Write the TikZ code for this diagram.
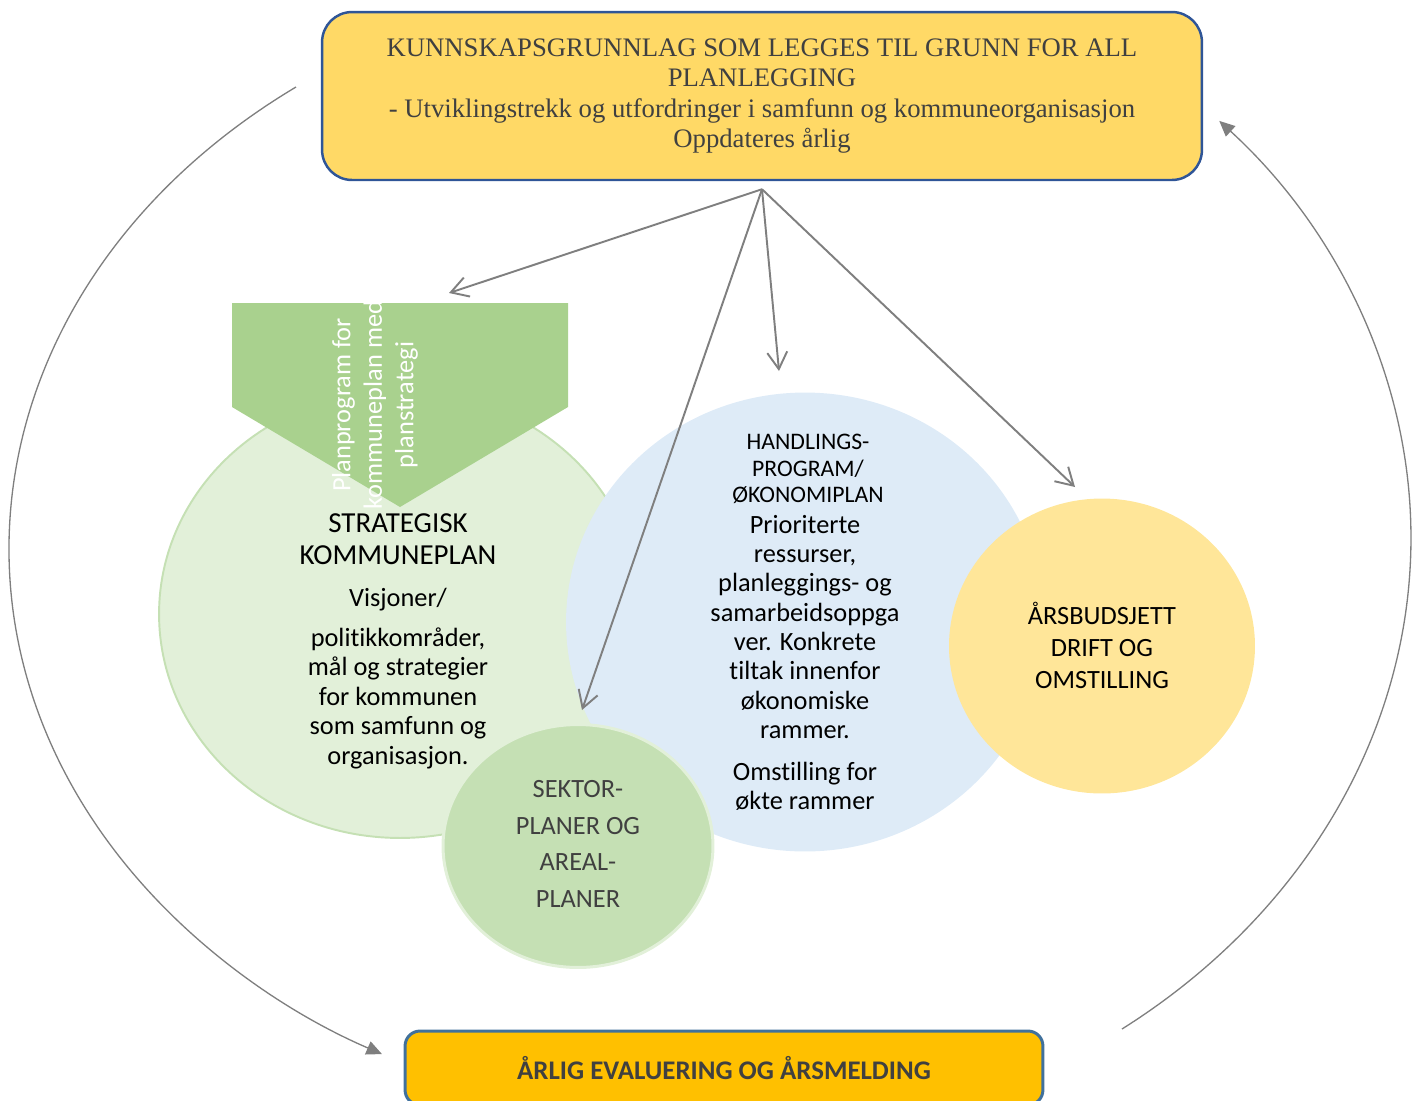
\documentclass[tikz,border=0pt]{standalone}
\usepackage{fontspec}
\setmainfont{Carlito}[Ligatures={NoCommon,NoRare}]
\newfontfamily\boxserif{Liberation Serif}
\usetikzlibrary{arrows.meta,positioning,shapes.geometric}

\definecolor{kgold}{HTML}{FFD966}
\definecolor{kblue}{HTML}{2F5597}
\definecolor{evalgold}{HTML}{FFC000}
\definecolor{evalblue}{HTML}{41719C}
\definecolor{stratfill}{HTML}{E2F0D9}
\definecolor{stratdraw}{HTML}{C5E0B4}
\definecolor{handlfill}{HTML}{DEEBF7}
\definecolor{budsjfill}{HTML}{FFE699}
\definecolor{sektorfill}{HTML}{C5E0B4}
\definecolor{chevgreen}{HTML}{A9D18E}
\definecolor{agray}{HTML}{7F7F7F}
\definecolor{textgray}{HTML}{404040}

\begin{document}
\begin{tikzpicture}[x=0.02cm,y=-0.02cm]
  \useasboundingbox (0,0) rectangle (1421,1100);
  \clip (0,0) rectangle (1421,1100);
  \tikzset{
    topBox/.style={rectangle,rounded corners=0.6cm,fill=kgold,draw=kblue,line width=1.4pt,
      minimum width=17.6cm,minimum height=3.36cm,align=center,text=textgray,
      font=\boxserif\fontsize{15.2}{17.4}\selectfont},
    evalBox/.style={rectangle,rounded corners=0.3cm,fill=evalgold,draw=evalblue,line width=1.7pt,
      minimum width=12.76cm,minimum height=1.48cm,text=textgray,
      font=\bfseries\fontsize{15.3}{17}\selectfont},
    % circles
    planCircle/.style={ellipse,fill=stratfill,draw=stratdraw,line width=1.1pt,inner sep=0pt},
    handlCircle/.style={ellipse,fill=handlfill,inner sep=0pt},
    budsjCircle/.style={ellipse,fill=budsjfill,inner sep=0pt},
    sektorCircle/.style={ellipse,fill=sektorfill,draw=stratfill,line width=1.7pt,inner sep=0pt},
    % text styles
    headText/.style={align=center,inner sep=0pt,font=\fontsize{16.5}{18.2}\selectfont},
    smallHead/.style={align=center,inner sep=0pt,font=\fontsize{13.5}{15.1}\selectfont},
    bodyText/.style={align=center,inner sep=0pt,font=\fontsize{15}{16.8}\selectfont},
    chevronText/.style={align=center,inner sep=0pt,text=white,rotate=90,
      font=\fontsize{15}{17.9}\selectfont},
    % edge styles
    linkArrow/.style={-{Straight Barb[length=3.4mm,width=4mm]},draw=agray,line width=1.1pt},
    cycleArrow/.style={-{Triangle[length=3.1mm,width=2.8mm]},draw=agray,line width=0.75pt}
  }

  %% Circles
  \node [planCircle, minimum width=9.64cm, minimum height=8.96cm] (strat) at (400,614) {};
  \node [handlCircle, minimum width=9.56cm, minimum height=9.18cm] (handl) at (805,622) {};
  \node [budsjCircle, minimum width=6.12cm, minimum height=5.9cm] (budsj) at (1102,646) {};
  \node [sektorCircle, minimum width=5.4cm, minimum height=4.86cm] (sektor) at (578,846) {};

  %% Planprogram chevron
  \fill [chevgreen] (232,303) -- (568,303) -- (568,407) -- (400,507) -- (232,407) -- cycle;
  \begin{scope}
    \clip (0,303) rectangle (1421,1100);
    \node [chevronText] (planprog) at (375,405) {Planprogram for\\kommuneplan med\\planstrategi};
  \end{scope}

  %% Circle texts
  \node [headText] (stratHead) at (398,539) {STRATEGISK\\KOMMUNEPLAN};
  \node [bodyText] (stratVis) at (398,600) {Visjoner/};
  \node [bodyText] (stratBody) at (398,698) {politikkområder,\\mål og strategier\\for kommunen\\som samfunn og\\organisasjon.};

  \node [smallHead] (handlHead) at (808,469) {HANDLINGS-\\PROGRAM/\\ØKONOMIPLAN};
  \node [bodyText, font=\fontsize{15}{16.7}\selectfont] (handlBody) at (805,627)
    {Prioriterte\\ressurser,\\planleggings- og\\samarbeidsoppga\\ver. Konkrete\\tiltak innenfor\\økonomiske\\rammer.};
  \node [bodyText, font=\fontsize{15}{16.7}\selectfont] (handlTail) at (805,786) {Omstilling for\\økte rammer};

  \node [bodyText, font=\fontsize{15}{18.2}\selectfont] (budsjText) at (1102,645) {ÅRSBUDSJETT\\DRIFT OG\\OMSTILLING};
  \node [bodyText, text=textgray, font=\fontsize{15}{20.8}\selectfont] (sektorText) at (578,844)
    {SEKTOR-\\PLANER OG\\AREAL-\\PLANER};

  %% Boxes
  \node [topBox] (kunnskap) at (762,96)
    {KUNNSKAPSGRUNNLAG SOM LEGGES TIL GRUNN FOR ALL\\PLANLEGGING\\- Utviklingstrekk og utfordringer i samfunn og kommuneorganisasjon\\Oppdateres årlig};
  \node [evalBox] (evaluering) at (724,1068) {ÅRLIG EVALUERING OG ÅRSMELDING};

  %% Arrows from the knowledge base
  \coordinate (hub) at ([yshift=-0.16cm]kunnskap.south);
  \coordinate (planTip) at (449,293);
  \coordinate (sektorTip) at (582,710);
  \coordinate (handlTip) at (779,371);
  \coordinate (budsjTip) at (1075,487);
  \draw [linkArrow] (hub) -- (planTip);
  \draw [linkArrow] (hub) -- (sektorTip);
  \draw [linkArrow] (hub) -- (handlTip);
  \draw [linkArrow] (hub) -- (budsjTip);

  %% Yearly cycle
  \coordinate (loopL) at (296,87);
  \coordinate (loopR) at (1122,1029);
  \draw [cycleArrow] (loopL) arc [start angle=233.8, end angle=117.9, x radius=701, y radius=572];
  \draw [cycleArrow] (loopR) arc [start angle=54, end angle=-43.4, x radius=701, y radius=607];

\end{tikzpicture}
\end{document}
